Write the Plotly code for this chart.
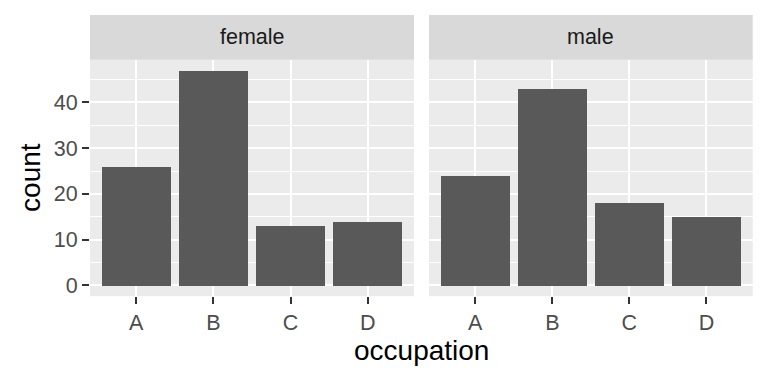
import plotly.graph_objects as go

occupations = ["A", "B", "C", "D"]
female_counts = [26, 47, 13, 14]
male_counts = [24, 43, 18, 15]
panels = ["female", "male"]

W, H = 768, 384
def px(x): return x / W
def py(y): return 1 - y / H

FONT = "Liberation Sans, Arial, Helvetica, sans-serif"

fig = go.Figure()
fig.add_trace(go.Bar(x=occupations, y=female_counts, marker=dict(color="#595959", line=dict(width=0)),
                     width=0.9, xaxis="x", yaxis="y", showlegend=False))
fig.add_trace(go.Bar(x=occupations, y=male_counts, marker=dict(color="#595959", line=dict(width=0)),
                     width=0.9, xaxis="x2", yaxis="y2", showlegend=False))

plot_top, plot_bot = 60, 297.7
strip_top = 15
doms = [(90, 414), (429, 752.7)]
ydom = [py(plot_bot), py(plot_top)]

xcommon = dict(range=[-0.6, 3.6], showgrid=True, gridcolor="white", gridwidth=2.2,
               ticks="outside", ticklen=7, tickwidth=2, tickcolor="#333333",
               tickfont=dict(family=FONT, size=21.5, color="#4D4D4D"),
               zeroline=False, showline=False, fixedrange=True, categoryorder="array",
               categoryarray=occupations)
ycommon = dict(range=[-2.35, 49.35], showgrid=True, gridcolor="white", gridwidth=2.2,
               dtick=10, tick0=0, zeroline=False, showline=False, fixedrange=True,
               minor=dict(dtick=5, tick0=0, showgrid=True, gridcolor="white", gridwidth=1.1, ticks=""),
               domain=ydom)

fig.update_layout(
    width=W, height=H, margin=dict(l=0, r=0, t=0, b=0),
    paper_bgcolor="white", plot_bgcolor="#EBEBEB", bargap=0,
    xaxis=dict(domain=[px(doms[0][0]), px(doms[0][1])], anchor="y", **xcommon),
    xaxis2=dict(domain=[px(doms[1][0]), px(doms[1][1])], anchor="y2", **xcommon),
    yaxis=dict(anchor="x", ticks="outside", ticklen=7, tickwidth=2, tickcolor="#333333",
               tickfont=dict(family=FONT, size=21.5, color="#4D4D4D"), **ycommon),
    yaxis2=dict(anchor="x2", showticklabels=False, ticks="", **ycommon),
)

for (x0, x1), name in zip(doms, panels):
    fig.add_shape(type="rect", xref="paper", yref="paper", x0=px(x0), x1=px(x1),
                  y0=py(plot_top), y1=py(strip_top), fillcolor="#D9D9D9", line=dict(width=0), layer="below")
    fig.add_annotation(text=name, xref="paper", yref="paper", x=px((x0 + x1) / 2),
                       y=py(37.5), showarrow=False,
                       font=dict(family=FONT, size=21.5, color="#1A1A1A"),
                       xanchor="center", yanchor="middle")

fig.add_annotation(text="occupation", xref="paper", yref="paper", x=px((doms[0][0] + doms[1][1]) / 2), y=py(352),
                   showarrow=False, font=dict(family=FONT, size=28, color="black"),
                   xanchor="center", yanchor="middle")
fig.add_annotation(text="count", xref="paper", yref="paper", x=px(31), y=py((plot_top + plot_bot) / 2),
                   showarrow=False, textangle=-90,
                   font=dict(family=FONT, size=28, color="black"),
                   xanchor="center", yanchor="middle")

fig.write_html("out.html", config={"displayModeBar": False},
               post_script="document.body.style.margin='0px';")
